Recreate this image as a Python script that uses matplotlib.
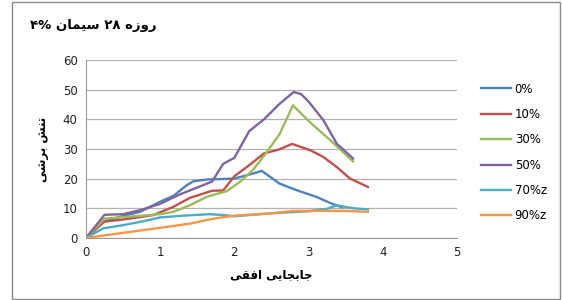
import matplotlib
matplotlib.use("Agg")
import matplotlib.pyplot as plt
from matplotlib.patches import Rectangle

# series (x = horizontal displacement, y = shear stress)
x_0 = [0, 0.23, 0.5, 0.73, 1.0, 1.18, 1.36, 1.45, 1.63, 2.0, 2.25, 2.37, 2.61, 2.84, 3.11, 3.29, 3.45]
y_0 = [0, 5.4, 7.4, 8.8, 12.2, 14.2, 17.8, 19.1, 19.7, 20.0, 21.7, 22.6, 18.3, 16.1, 13.8, 11.8, 10.3]

x_10 = [0, 0.25, 0.5, 0.91, 1.18, 1.4, 1.7, 1.85, 2.0, 2.2, 2.4, 2.6, 2.78, 3.02, 3.2, 3.38, 3.56, 3.8]
y_10 = [0, 5.5, 6.2, 7.7, 10.5, 13.5, 15.9, 16.0, 20.8, 24.5, 28.5, 29.8, 31.7, 29.6, 27.3, 23.9, 20.0, 17.2]

x_30 = [0, 0.25, 0.5, 1.0, 1.18, 1.4, 1.63, 1.9, 2.08, 2.25, 2.41, 2.61, 2.79, 3.02, 3.29, 3.6]
y_30 = [0, 6.5, 7.0, 8.0, 8.8, 11.0, 13.9, 15.8, 19.0, 22.9, 28.0, 35.0, 44.7, 39.0, 33.0, 25.8]

x_50 = [0, 0.25, 0.5, 0.75, 1.0, 1.25, 1.5, 1.7, 1.85, 2.0, 2.2, 2.4, 2.6, 2.8, 2.9, 3.0, 3.2, 3.38, 3.6]
y_50 = [0, 7.8, 8.0, 9.5, 11.5, 14.5, 17.0, 19.0, 25.0, 27.0, 36.0, 40.0, 45.0, 49.2, 48.5, 46.0, 39.7, 31.8, 26.8]

x_70 = [0, 0.23, 0.5, 0.73, 1.0, 1.31, 1.67, 1.85, 2.0, 2.5, 3.0, 3.25, 3.38, 3.6, 3.8]
y_70 = [0, 3.2, 4.3, 5.4, 6.9, 7.5, 8.0, 7.7, 7.3, 8.3, 9.0, 9.8, 11.0, 10.0, 9.6]

x_90 = [0, 0.5, 1.0, 1.4, 1.72, 2.0, 2.5, 2.79, 3.0, 3.5, 3.8]
y_90 = [0, 1.7, 3.4, 4.8, 6.5, 7.5, 8.3, 9.1, 9.1, 9.1, 8.8]

labels = ["0%", "10%", "30%", "50%", "70%z", "90%z"]
colors = ["#4F81BD", "#C0504D", "#9BBB59", "#8064A2", "#4BACC6", "#F79646"]
series = [(x_0, y_0), (x_10, y_10), (x_30, y_30), (x_50, y_50), (x_70, y_70), (x_90, y_90)]

# Persian texts in visual order, using presentation forms (no shaping engine in matplotlib)
title = "\u06f4% \ufee5\ufe8e\ufee4\ufef4\ufeb3 \u06f2\u06f8 \ufee9\ufeaf\ufeed\ufead"
xlabel = "\ufef0\ufed8\ufed3\ufe8d \ufef0\ufef3\ufe8e\ufea0\ufe91\ufe8e\ufe9f"
ylabel = "\ufef0\ufeb7\ufeae\ufe91 \ufeb6\ufee8\ufe97"

plt.rcParams["font.family"] = ["DejaVu Sans"]

fig = plt.figure(figsize=(5.62, 3.0), dpi=100)
fig.patches.append(Rectangle((0.022, 0.003), 0.975, 0.99, transform=fig.transFigure,
                             fill=False, edgecolor="#8c8c8c", linewidth=1.0))

ax = fig.add_axes([0.153, 0.207, 0.66, 0.593])
for (xs, ys), c, lab in zip(series, colors, labels):
    ax.plot(xs, ys, color=c, linewidth=1.7, label=lab, solid_joinstyle="round")

ax.set_xlim(0, 5)
ax.set_ylim(0, 60)
ax.set_xticks(range(0, 6))
ax.set_yticks(range(0, 61, 10))
ax.yaxis.grid(True, color="#b3b3b3", linewidth=0.9)
ax.set_axisbelow(True)
for s in ["top", "right"]:
    ax.spines[s].set_visible(False)
for s in ["left", "bottom"]:
    ax.spines[s].set_color("#9a9a9a")
ax.tick_params(length=0, labelsize=8.5, colors="#222222", pad=6)

ax.set_xlabel(xlabel, fontsize=8.5, fontweight="bold", labelpad=6)
ax.set_ylabel(ylabel, fontsize=8.5, fontweight="bold", labelpad=10)

fig.text(0.053, 0.915, title, fontsize=9.5, fontweight="bold", va="center", ha="left")

ax.legend(loc="center left", bbox_to_anchor=(1.035, 0.48), frameon=False,
          fontsize=8.5, handlelength=2.6, handletextpad=0.3, labelspacing=1.05)

fig.savefig("out.png", dpi=100)
